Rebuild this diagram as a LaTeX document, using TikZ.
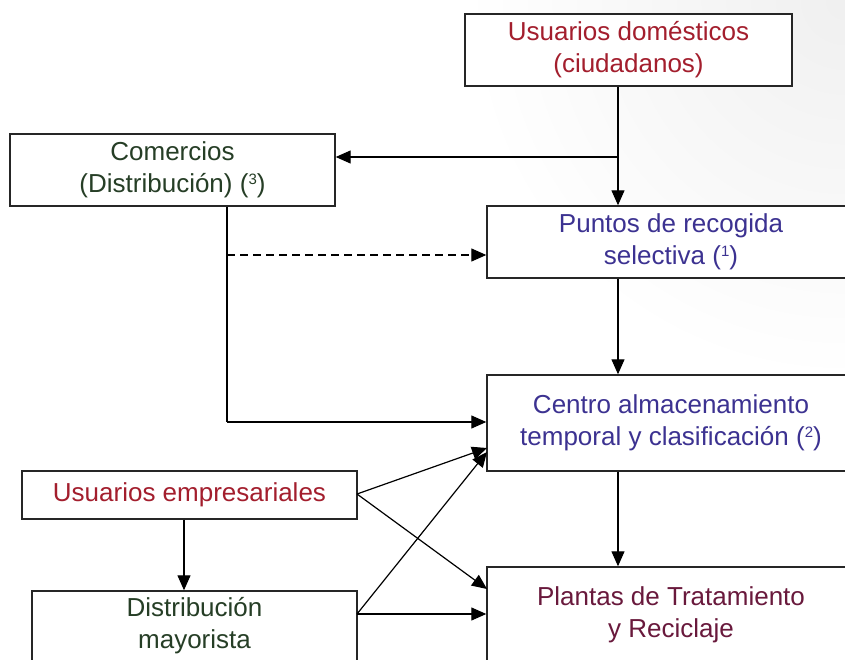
\documentclass[tikz,border=0pt]{standalone}
\usepackage{fontspec}
\setmainfont{Liberation Sans}
\usetikzlibrary{arrows.meta}
\definecolor{cred}{RGB}{163,30,45}
\definecolor{cgreen}{RGB}{38,62,38}
\definecolor{cblue}{RGB}{60,50,145}
\definecolor{cmaroon}{RGB}{105,25,60}
\newcommand{\supn}[1]{\raisebox{8pt}{\fontsize{15}{15}\selectfont #1}}
\begin{document}
\begin{tikzpicture}[x=1pt,y=-1pt,
  box/.style={draw=black!85, line width=1.4pt, fill=white, inner sep=0pt, align=center,
    font=\fontsize{26}{32}\selectfont},
  ln/.style={line width=1.2pt},
  arr/.style={line width=1.2pt, -{Triangle[length=15pt,width=13pt]}}]
\clip (0,0) rectangle (845,660);
\fill[white] (0,0) rectangle (845,660);
\shade[inner color=black!6, outer color=white] (845,0) circle (380pt);
% nodes
\node[box, minimum width=327pt, minimum height=72pt, text=cred] (dom) at (628.5,50) {Usuarios domésticos\\(ciudadanos)};
\node[box, minimum width=325pt, minimum height=72pt, text=cgreen] (com) at (172.5,170) {Comercios\\(Distribución) (\supn{3})};
\node[box, minimum width=368pt, minimum height=72pt, text=cblue] (pun) at (671,242) {Puntos de recogida\\selectiva (\supn{1})};
\node[box, minimum width=368pt, minimum height=96pt, text=cblue] (cen) at (671,423) {Centro almacenamiento\\temporal y clasificación (\supn{2})};
\node[box, minimum width=368pt, minimum height=96pt, text=cmaroon] (pla) at (671,615) {Plantas de Tratamiento\\y Reciclaje};
\node[box, minimum width=335pt, minimum height=48pt, text=cred] (emp) at (189.5,495) {Usuarios empresariales};
\node[box, minimum width=325pt, minimum height=70pt, text=cgreen] (may) at (194.5,626) {Distribución\\mayorista};
% helper coordinates
\coordinate (vx) at (618,157);
\coordinate (cx) at (227,255);
\coordinate (cy) at (227,422);
\coordinate (ex) at (184,0);
\coordinate (eo) at (357,494);
\coordinate (mo) at (357,614);
\coordinate (c1) at (487,448);
\coordinate (c2) at (487,452);
\coordinate (p1) at (487,589);
% connectors
\draw[arr] (dom.south -| vx) -- (pun.north -| vx);
\draw[arr] (vx) -- (vx -| com.east);
\draw[arr, dashed, dash pattern=on 8pt off 5pt] (cx) -- (cx -| pun.west);
\draw[ln] (com.south -| cx) -- (cy);
\draw[arr] (cy) -- (cy -| cen.west);
\draw[arr] (pun.south -| vx) -- (cen.north -| vx);
\draw[arr] (cen.south -| vx) -- (pla.north -| vx);
\draw[arr] (emp.south -| ex) -- (may.north -| ex);
\draw[arr] (eo) -- (c1);
\draw[arr] (eo) -- (p1);
\draw[arr] (mo) -- (c2);
\draw[arr] (mo) -- (mo -| pla.west);
\end{tikzpicture}
\end{document}
